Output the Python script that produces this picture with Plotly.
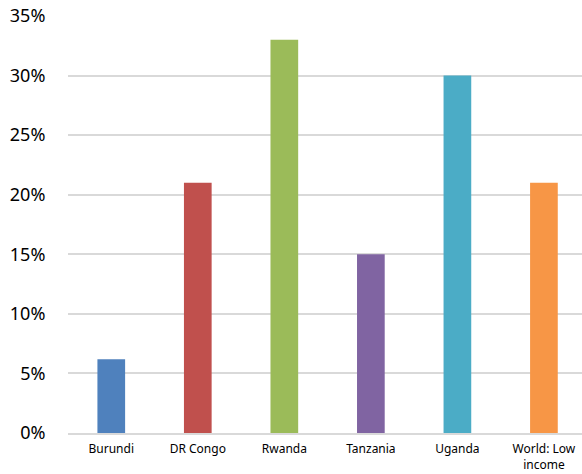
import plotly.graph_objects as go

categories = ["Burundi", "DR Congo", "Rwanda", "Tanzania", "Uganda", "World: Low<br>income"]
values = [6.2, 21, 33, 15, 30, 21]
colors = ["#4F81BD", "#C0504D", "#9BBB59", "#8064A2", "#4BACC6", "#F79646"]
y_ticks = [0, 5, 10, 15, 20, 25, 30, 35]
y_tick_labels = [f"{v}%" for v in y_ticks]

fig = go.Figure(go.Bar(
    x=list(range(len(categories))),
    y=values,
    marker=dict(color=colors, line=dict(width=0)),
    width=0.32,
))

fig.update_layout(
    width=582, height=474,
    margin=dict(l=68, r=0, t=16, b=41),
    paper_bgcolor="white", plot_bgcolor="white",
    font=dict(family="Noto Sans, DejaVu Sans, sans-serif", color="#000000"),
    showlegend=False,
)
fig.update_xaxes(
    range=[-0.5, 5.44],
    tickmode="array",
    tickvals=list(range(len(categories))),
    ticktext=categories,
    tickfont=dict(size=12),
    showgrid=False,
    showline=True, linecolor="#d9d9d9", linewidth=2,
    ticks="outside", ticklen=4, tickcolor="rgba(0,0,0,0)",
    zeroline=False,
)
fig.update_yaxes(
    range=[0, 35],
    tickmode="array",
    tickvals=y_ticks,
    ticktext=y_tick_labels,
    tickfont=dict(size=18),
    showgrid=True, gridcolor="#d9d9d9", gridwidth=2,
    ticks="outside", ticklen=18, tickcolor="rgba(0,0,0,0)",
    zeroline=False, showline=False,
)

fig.write_html("out.html")
